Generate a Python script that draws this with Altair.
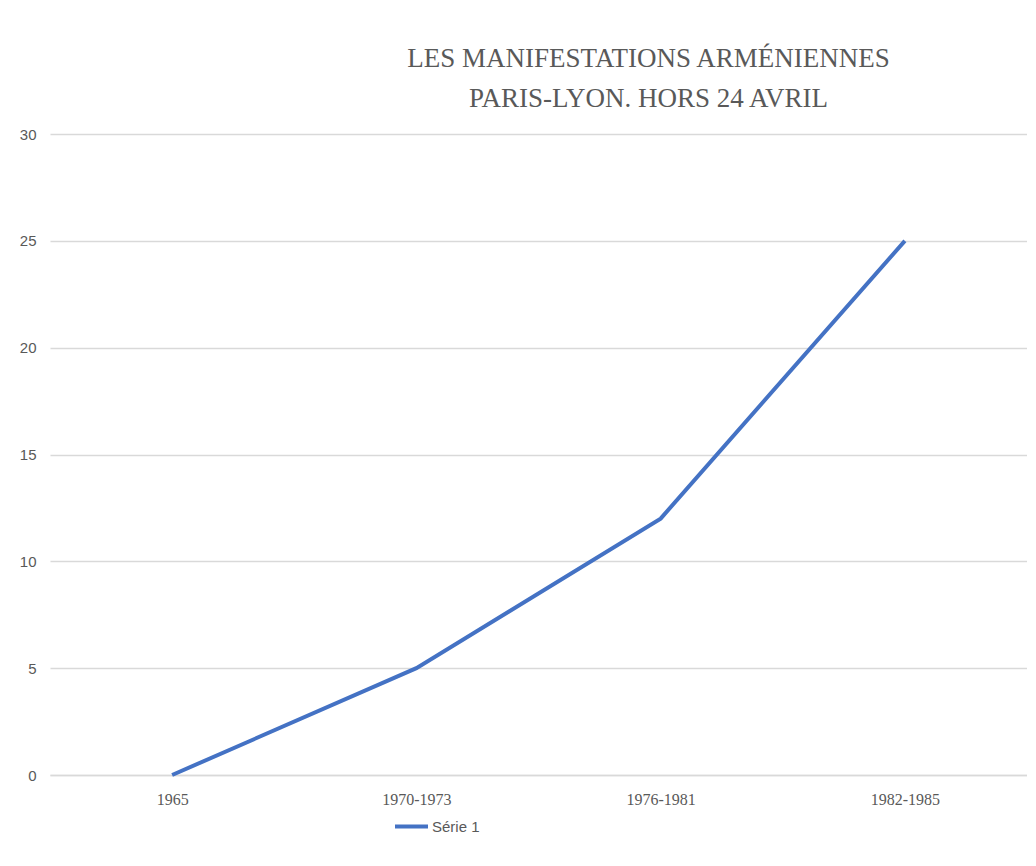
import altair as alt
import pandas as pd

categories = ["1965", "1970-1973", "1976-1981", "1982-1985"]
values = [0, 5, 12, 25]
series = ["Série 1"] * 4

df = pd.DataFrame({"periode": categories, "valeur": values, "serie": series})

chart = alt.Chart(df).mark_line(strokeWidth=4, color="#4472C4").encode(
    x=alt.X("periode:N", sort=categories, title=None,
            scale=alt.Scale(type="point", padding=0.5),
            axis=alt.Axis(labelAngle=0, labelFont="Liberation Serif", labelFontSize=16,
                          labelColor="#595959", labelPadding=16, ticks=False,
                          domainColor="#d9d9d9", domainWidth=1.5, grid=False)),
    y=alt.Y("valeur:Q", title=None,
            scale=alt.Scale(domain=[0, 30]),
            axis=alt.Axis(values=[0, 5, 10, 15, 20, 25, 30], labelFont="Liberation Sans Narrow, Liberation Sans",
                          labelFontSize=15, labelColor="#595959", labelPadding=14,
                          ticks=False, domain=False, gridColor="#d9d9d9", gridWidth=1.5)),
    color=alt.Color("serie:N", scale=alt.Scale(domain=["Série 1"], range=["#4472C4"]),
                    legend=alt.Legend(title=None, orient="none", legendX=343, legendY=674,
                                      symbolType="stroke", symbolSize=1089, symbolStrokeWidth=4,
                                      labelFont="Liberation Sans Narrow, Liberation Sans",
                                      labelFontSize=15, labelColor="#595959", labelOffset=2)),
).properties(
    width=977,
    height=641,
    padding={"left": 42, "top": 126, "right": 0, "bottom": 80},
    autosize=alt.AutoSizeParams(type="none"),
    background="white",
    title=alt.TitleParams(
        text=["LES MANIFESTATIONS ARMÉNIENNES", "PARIS-LYON. HORS 24 AVRIL"],
        font="Liberation Serif", fontSize=27, fontWeight="normal", color="#595959",
        anchor="middle", dx=110, offset=14, lineHeight=40,
    ),
).configure_view(stroke="transparent", strokeWidth=0)

chart.save("out.html", embed_options={"renderer": "svg", "actions": False})
